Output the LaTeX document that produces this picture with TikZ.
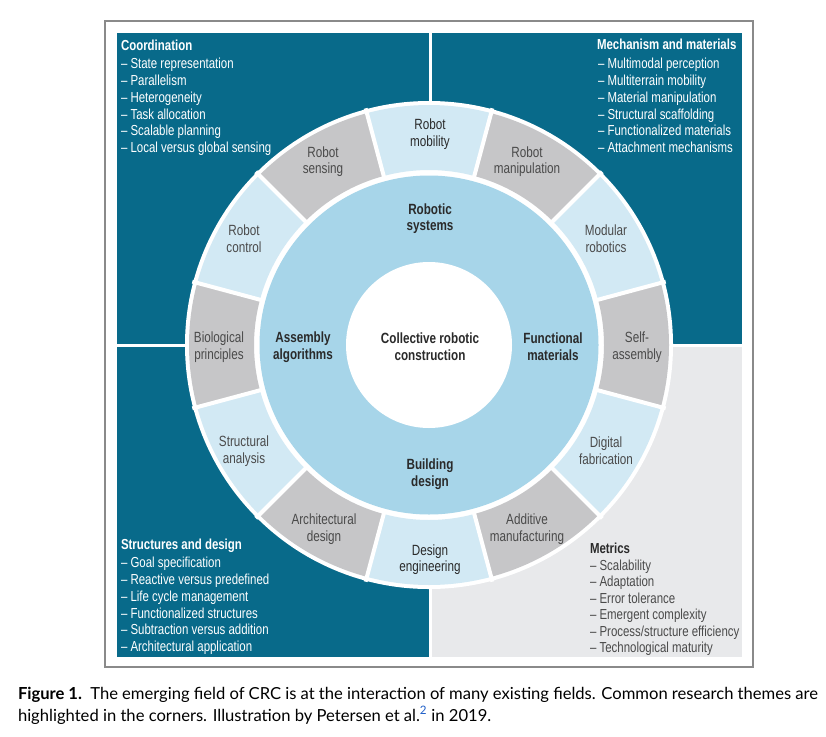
\documentclass[tikz,border=0pt]{standalone}
\usepackage{fontspec}
\setmainfont{Liberation Sans}[FakeStretch=0.79]
\newfontfamily\capfont{Lato}
\usetikzlibrary{calc}
\definecolor{crcteal}{HTML}{086A8A}
\definecolor{ringblue}{HTML}{D2E9F4}
\definecolor{midblue}{HTML}{A7D5E9}
\definecolor{ringgray}{HTML}{C6C6C8}
\definecolor{panelgray}{HTML}{E8E9EB}
\definecolor{framegray}{HTML}{8A8A8A}
\definecolor{lbltext}{HTML}{4A4A4A}
\definecolor{darktext}{HTML}{2A2A2A}
\definecolor{caplink}{HTML}{1F5FC8}
\begin{document}
\begin{tikzpicture}[x=1pt,y=1pt,
  every node/.style={inner sep=0pt, outer sep=0pt},
  lstfont/.style={font=\fontsize{14.5}{16.9}\selectfont},
  item/.style={lstfont, anchor=base west},
  head/.style={lstfont, font=\fontsize{14.5}{16.9}\selectfont\bfseries, anchor=base west},
  ringlbl/.style={align=center, text=lbltext, font=\fontsize{14.8}{16.7}\selectfont},
  ringdark/.style={ringlbl, text=darktext},
  boldlbl/.style={align=center, text=darktext, font=\fontsize{14.8}{16.7}\selectfont\bfseries},
  capstyle/.style={anchor=base west, font=\capfont\fontsize{16.6}{22}\selectfont}
]
\useasboundingbox (0,0) rectangle (826,-736);
\fill[white] (0,0) rectangle (826,-736);
% frame and panels
\draw[framegray, line width=1.3pt] (105,-21) rectangle (753,-667);
\fill[crcteal] (117,-33) rectangle (428.5,-343.5);
\fill[crcteal] (431.5,-33) rectangle (742,-343.5);
\fill[crcteal] (117,-346.5) rectangle (428.5,-657);
\fill[panelgray] (431.5,-346.5) rectangle (742,-657);
% ring
\coordinate (c) at (429,-345);
\fill[white] (c) circle (244);
\foreach \a/\col in {90/ringblue,60/ringgray,30/ringblue,0/ringgray,-30/ringblue,-60/ringgray,-90/ringblue,-120/ringgray,-150/ringblue,180/ringgray,150/ringblue,120/ringgray}{
  \pgfmathsetmacro\sa{\a-15}
  \pgfmathsetmacro\ea{\a+15}
  \fill[\col, shift={(c)}] (\sa:175) arc[start angle=\sa, end angle=\ea, radius=175]
     -- (\ea:240) arc[start angle=\ea, end angle=\sa, radius=240] -- cycle;
}
\foreach \a in {75,45,15,-15,-45,-75,-105,-135,-165,165,135,105}{
  \draw[white, line width=4pt, shift={(c)}] (\a:170) -- (\a:245);
}
\fill[midblue] (c) circle (169.5);
\fill[white] (c) circle (83);
% ring labels
\node[ringdark] (mob) at (430,-134.2) {Robot\\mobility};
\node[ringlbl] (man) at (527,-161.7) {Robot\\manipulation};
\node[ringlbl] (mod) at (606,-238.7) {Modular\\robotics};
\node[ringlbl] (self) at (637,-347) {Self-\\assembly};
\node[ringlbl] (dig) at (606,-451) {Digital\\fabrication};
\node[ringlbl] (add) at (527,-529) {Additive\\manufacturing};
\node[ringdark] (deseng) at (430,-559.7) {Design\\engineering};
\node[ringlbl] (arch) at (324,-529) {Architectural\\design};
\node[ringlbl] (struct) at (244,-451) {Structural\\analysis};
\node[ringlbl] (bio) at (219,-347) {Biological\\principles};
\node[ringlbl] (ctrl) at (244,-238.7) {Robot\\control};
\node[ringlbl] (sens) at (323,-161.7) {Robot\\sensing};
% middle labels
\node[boldlbl] (rsys) at (430,-218.7) {Robotic\\systems};
\node[boldlbl] (fmat) at (553,-347) {Functional\\materials};
\node[boldlbl] (bdes) at (430,-474) {Building\\design};
\node[boldlbl] (aalg) at (303,-347) {Assembly\\algorithms};
\node[boldlbl] (crc) at (430,-347) {Collective robotic\\construction};
% panel texts
\node[head, text=white] (tlh) at (121,-50) {Coordination};
\foreach \t [count=\k] in {State representation, Parallelism, Heterogeneity, Task allocation, Scalable planning, Local versus global sensing}{
  \node[item, text=white] (tl\k) at (121,{-68.3-16.9*(\k-1)}) {-- \t};
}
\node[head, text=white] (trh) at (597,-49.5) {Mechanism and materials};
\foreach \t [count=\k] in {Multimodal perception, Multiterrain mobility, Material manipulation, Structural scaffolding, Functionalized materials, Attachment mechanisms}{
  \node[item, text=white] (tr\k) at (598,{-68.3-16.9*(\k-1)}) {-- \t};
}
\node[head, text=white] (blh) at (121,-549.3) {Structures and design};
\foreach \t [count=\k] in {Goal specification, Reactive versus predefined, Life cycle management, Functionalized structures, Subtraction versus addition, Architectural application}{
  \node[item, text=white] (bl\k) at (121,{-567.7-16.8*(\k-1)}) {-- \t};
}
\node[head, text=darktext] (brh) at (590,-553.3) {Metrics};
\foreach \t [count=\k] in {Scalability, Adaptation, Error tolerance, Emergent complexity, Process/structure efficiency, Technological maturity}{
  \node[item, text=darktext!85] (br\k) at (590,{-570-16.5*(\k-1)}) {-- \t};
}
% caption
\node[capstyle] (cap1) at (18,-699)
  {\hbox to 800pt{\textbf{Figure 1.}\enspace The emerging field of CRC is at the interaction of many existing fields. Common research themes are}};
\node[capstyle] (cap2) at (18,-721)
  {highlighted in the corners. Illustration by Petersen et al.\textsuperscript{\textcolor{caplink}{2}} in 2019.};
\end{tikzpicture}
\end{document}
